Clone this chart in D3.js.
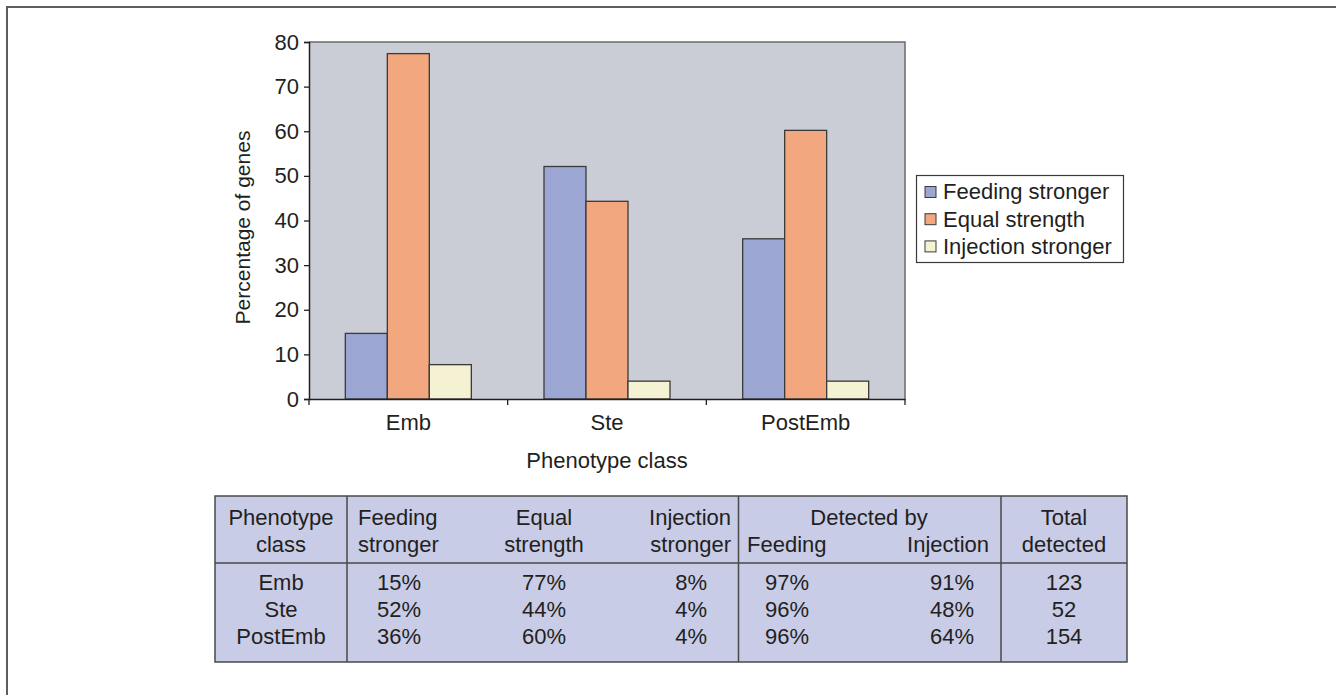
<!DOCTYPE html>
<html lang="en">
<head>
<meta charset="utf-8">
<title>Phenotype class chart</title>
<script src="https://d3js.org/d3.v7.min.js"></script>
<style>
  body { margin: 0; background: #fff; }
  text { font-family: "Liberation Sans", Arial, sans-serif; fill: #231f20; }
</style>
</head>
<body>
<script>
// chart values
var categories = ["Emb", "Ste", "PostEmb"];
var seriesNames = ["Feeding stronger", "Equal strength", "Injection stronger"];
var feedingStronger = [14.7, 52.1, 35.9];
var equalStrength = [77.4, 44.3, 60.2];
var injectionStronger = [7.7, 4.0, 4.0];
var yTicks = [0, 10, 20, 30, 40, 50, 60, 70, 80];

// table values
var tableClasses = ["Emb", "Ste", "PostEmb"];
var tblFeeding = ["15%", "52%", "36%"];
var tblEqual = ["77%", "44%", "60%"];
var tblInjection = ["8%", "4%", "4%"];
var detFeeding = ["97%", "96%", "96%"];
var detInjection = ["91%", "48%", "64%"];
var totalDetected = ["123", "52", "154"];

var colours = ["#9ba6d3", "#f2a77e", "#f4f2d2"];
var fs = "22px";

var svg = d3.select("body").append("svg").attr("width", 1336).attr("height", 695);

// outer frame (top and left edges)
svg.append("path")
    .attr("d", "M7,695 L7,7 L1336,7")
    .attr("fill", "none").attr("stroke", "#5e5e5e").attr("stroke-width", 2);

var plot = { left: 309, top: 42, right: 905, bottom: 399 };
var g = svg.append("g");

var x0 = d3.scaleBand().domain(categories).range([plot.left, plot.right]);
var x1 = d3.scaleBand().domain(seriesNames).range([0, x0.bandwidth()]).paddingOuter(0.865);
var y = d3.scaleLinear().domain([0, 80]).range([plot.bottom, plot.top]);

// plot background
g.append("rect")
    .attr("x", plot.left).attr("y", plot.top)
    .attr("width", plot.right - plot.left).attr("height", plot.bottom - plot.top)
    .attr("fill", "#cacdd6");
g.append("path")
    .attr("d", "M" + plot.left + "," + plot.top + " L" + plot.right + "," + plot.top + " L" + plot.right + "," + plot.bottom)
    .attr("fill", "none").attr("stroke", "#6b6b6b").attr("stroke-width", 1.5);

var rows = categories.map(function(c, i) {
    return { cat: c, vals: [feedingStronger[i], equalStrength[i], injectionStronger[i]] };
});

var groups = g.selectAll(".grp").data(rows).enter().append("g")
    .attr("transform", function(d) { return "translate(" + x0(d.cat) + ",0)"; });

groups.selectAll("rect").data(function(d) {
        return d.vals.map(function(v, j) { return { s: seriesNames[j], v: v, j: j }; });
    })
    .enter().append("rect")
    .attr("x", function(d) { return x1(d.s); })
    .attr("y", function(d) { return y(d.v); })
    .attr("width", x1.bandwidth())
    .attr("height", function(d) { return y(0) - y(d.v); })
    .attr("fill", function(d) { return colours[d.j]; })
    .attr("stroke", "#3a3a3a").attr("stroke-width", 1.3);

// y axis
var yAxis = g.append("g")
    .attr("transform", "translate(" + plot.left + ",0)")
    .call(d3.axisLeft(y).tickValues(yTicks).tickSize(5).tickPadding(5));
yAxis.select(".domain").attr("stroke", "#231f20").attr("stroke-width", 1.5);
yAxis.selectAll(".tick line").attr("stroke", "#231f20").attr("stroke-width", 1.3);
yAxis.selectAll("text").style("font-size", fs).attr("fill", "#231f20")
    .attr("font-family", "Liberation Sans, Arial, sans-serif");

// x axis
var xAxis = g.append("g")
    .attr("transform", "translate(0," + plot.bottom + ")")
    .call(d3.axisBottom(x0).tickSize(0).tickPadding(15));
xAxis.select(".domain").attr("stroke", "#231f20").attr("stroke-width", 1.5);
xAxis.selectAll("text").style("font-size", fs).attr("fill", "#231f20")
    .attr("font-family", "Liberation Sans, Arial, sans-serif");
// boundary ticks between categories
var bounds = categories.map(function(c) { return x0(c); }).concat([plot.right]);
g.selectAll(".btick").data(bounds).enter().append("line")
    .attr("x1", function(d) { return d; }).attr("x2", function(d) { return d; })
    .attr("y1", plot.bottom).attr("y2", plot.bottom + 6)
    .attr("stroke", "#231f20").attr("stroke-width", 1.3);

// axis titles
g.append("text")
    .attr("transform", "translate(250," + ((plot.top + plot.bottom) / 2 + 7) + ") rotate(-90)")
    .attr("text-anchor", "middle").style("font-size", "21px")
    .text("Percentage of genes");
g.append("text")
    .attr("x", (plot.left + plot.right) / 2).attr("y", 468)
    .attr("text-anchor", "middle").style("font-size", fs)
    .text("Phenotype class");

// legend
var leg = svg.append("g");
leg.append("rect")
    .attr("x", 916.5).attr("y", 175.5).attr("width", 207).attr("height", 87)
    .attr("fill", "#fff").attr("stroke", "#3a3a3a").attr("stroke-width", 1.2);
seriesNames.forEach(function(s, i) {
    var cy = 191.5 + i * 27.2;
    leg.append("rect")
        .attr("x", 925).attr("y", cy - 5).attr("width", 11).attr("height", 11)
        .attr("fill", colours[i]).attr("stroke", "#3a3a3a").attr("stroke-width", 1);
    leg.append("text")
        .attr("x", 943).attr("y", cy).attr("dy", "0.36em")
        .style("font-size", fs).text(s);
});

// table
var tbl = { left: 215, top: 496, right: 1127, bottom: 662, headLine: 563 };
var t = svg.append("g");
t.append("rect")
    .attr("x", tbl.left).attr("y", tbl.top)
    .attr("width", tbl.right - tbl.left).attr("height", tbl.bottom - tbl.top)
    .attr("fill", "#c8cce7").attr("stroke", "#4a4a4a").attr("stroke-width", 1.5);
t.append("line").attr("x1", tbl.left).attr("x2", tbl.right)
    .attr("y1", tbl.headLine).attr("y2", tbl.headLine)
    .attr("stroke", "#4a4a4a").attr("stroke-width", 1.5);
[347, 738.5, 1001].forEach(function(cx) {
    t.append("line").attr("x1", cx).attr("x2", cx)
        .attr("y1", tbl.top).attr("y2", tbl.bottom)
        .attr("stroke", "#4a4a4a").attr("stroke-width", 1.5);
});

function cell(x, yc, txt, anchor) {
    t.append("text").attr("x", x).attr("y", yc).attr("dy", "0.36em")
        .attr("text-anchor", anchor).style("font-size", fs).text(txt);
}

var h1 = 517, h2 = 544;
cell(281, h1, "Phenotype", "middle");
cell(281, h2, "class", "middle");
cell(358, h1, "Feeding", "start");
cell(358, h2, "stronger", "start");
cell(544, h1, "Equal", "middle");
cell(544, h2, "strength", "middle");
cell(731, h1, "Injection", "end");
cell(731, h2, "stronger", "end");
cell(869, h1, "Detected by", "middle");
cell(747, h2, "Feeding", "start");
cell(989, h2, "Injection", "end");
cell(1064, h1, "Total", "middle");
cell(1064, h2, "detected", "middle");

tableClasses.forEach(function(c, i) {
    var yc = 582 + i * 27;
    cell(281, yc, c, "middle");
    cell(377, yc, tblFeeding[i], "start");
    cell(566, yc, tblEqual[i], "end");
    cell(707, yc, tblInjection[i], "end");
    cell(765, yc, detFeeding[i], "start");
    cell(974, yc, detInjection[i], "end");
    cell(1064, yc, totalDetected[i], "middle");
});
</script>
</body>
</html>
